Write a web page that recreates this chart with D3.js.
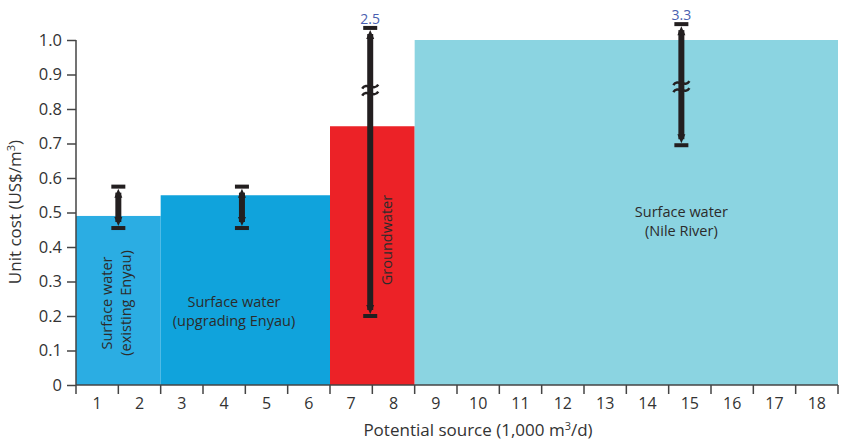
<!DOCTYPE html>
<html>
<head>
<meta charset="utf-8">
<script src="https://cdn.jsdelivr.net/npm/d3@7"></script>
<style>
body { margin: 0; background: #fff; }
text { font-family: "Open Sans", sans-serif; fill: #333; }
</style>
</head>
<body>
<svg width="841" height="442"></svg>
<script>
// sources: capacity span (1,000 m3/d) and unit cost
var sources = ["existing", "upgrading", "ground", "nile"];
var spanStart = [0, 2, 6, 8];
var spanEnd = [2, 6, 8, 18];
var unitCost = [0.49, 0.55, 0.75, 1.0];
var colors = ["#2badE3", "#10a3dc", "#ec2227", "#8bd4e1"];

// ranges (error bars)
var rangeX = [1, 3.92, 6.95, 14.3];
var rangeLow = [0.455, 0.455, 0.2, 0.695];
var rangeHigh = [0.575, 0.575, 1.035, 1.046];
var rangeTopLabel = ["", "", "2.5", "3.3"];
var hasBreak = [false, false, true, true];
var breakAt = [0, 0, 0.855, 0.865];

var yTicks = [0, 0.1, 0.2, 0.3, 0.4, 0.5, 0.6, 0.7, 0.8, 0.9, 1.0];
var xLabels = d3.range(1, 19);

var svg = d3.select("svg");

var x = d3.scaleLinear().domain([0, 18]).range([76, 838]);
var y = d3.scaleLinear().domain([0, 1]).range([385, 40]);

// bars
svg.selectAll(".bar")
    .data(sources)
    .enter().append("rect")
    .attr("class", "bar")
    .attr("x", function(d, i) { return x(spanStart[i]); })
    .attr("width", function(d, i) { return x(spanEnd[i]) - x(spanStart[i]); })
    .attr("y", function(d, i) { return y(unitCost[i]); })
    .attr("height", function(d, i) { return y(0) - y(unitCost[i]); })
    .attr("fill", function(d, i) { return colors[i]; });

// y axis
var yAxis = d3.axisLeft(y)
    .tickValues(yTicks)
    .tickSize(9)
    .tickPadding(5)
    .tickFormat(function(d) { return d === 0 ? "0" : d3.format(".1f")(d); });
var gy = svg.append("g").attr("transform", "translate(76,0)").call(yAxis);
gy.select(".domain").attr("stroke", "#444").attr("stroke-width", 1.5).attr("d", "M0,385V40");
gy.selectAll(".tick line").attr("stroke", "#444").attr("stroke-width", 1.5);
gy.selectAll(".tick text").style("font-size", "16.5px").style("fill", "#333");

// x axis: ticks at boundaries, labels in between
var gx = svg.append("g").attr("transform", "translate(0,385)");
gx.append("line")
    .attr("x1", x(0)).attr("x2", x(18))
    .attr("stroke", "#444").attr("stroke-width", 1.5);
gx.selectAll(".xtick")
    .data(d3.range(0, 19))
    .enter().append("line")
    .attr("x1", function(d) { return x(d); })
    .attr("x2", function(d) { return x(d); })
    .attr("y1", 0).attr("y2", 9)
    .attr("stroke", "#444").attr("stroke-width", 1.5);
gx.selectAll(".xlab")
    .data(xLabels)
    .enter().append("text")
    .attr("x", function(d) { return x(d - 0.5); })
    .attr("y", 24)
    .attr("text-anchor", "middle")
    .style("font-size", "16px")
    .text(function(d) { return d; });

// axis titles
svg.append("text")
    .attr("transform", "translate(21,212) rotate(-90)")
    .attr("text-anchor", "middle")
    .style("font-size", "17px")
    .html('Unit cost (US$/m<tspan dy="-6" font-size="11px">3</tspan><tspan dy="6">)</tspan>');

svg.append("text")
    .attr("x", 478).attr("y", 436)
    .attr("text-anchor", "middle")
    .style("font-size", "17px")
    .html('Potential source (1,000 m<tspan dy="-6" font-size="11px">3</tspan><tspan dy="6">/d)</tspan>');

// range bars
var bars = svg.selectAll(".range")
    .data(sources)
    .enter().append("g")
    .attr("class", "range");

bars.append("line")
    .attr("x1", function(d, i) { return x(rangeX[i]); })
    .attr("x2", function(d, i) { return x(rangeX[i]); })
    .attr("y1", function(d, i) { return y(rangeHigh[i]) + 6; })
    .attr("y2", function(d, i) { return y(rangeLow[i]) - 6; })
    .attr("stroke", "#231f20")
    .attr("stroke-width", 6);

// caps
bars.append("rect")
    .attr("x", function(d, i) { return x(rangeX[i]) - 7; })
    .attr("y", function(d, i) { return y(rangeHigh[i]) - 2; })
    .attr("width", 14).attr("height", 4)
    .attr("fill", "#231f20");
bars.append("rect")
    .attr("x", function(d, i) { return x(rangeX[i]) - 7; })
    .attr("y", function(d, i) { return y(rangeLow[i]) - 2; })
    .attr("width", 14).attr("height", 4)
    .attr("fill", "#231f20");

// arrowheads
bars.append("path")
    .attr("d", function(d, i) {
        var cx = x(rangeX[i]), t = y(rangeHigh[i]) + 2;
        return "M" + cx + "," + t + "L" + (cx - 4) + "," + (t + 9) + "L" + (cx + 4) + "," + (t + 9) + "Z";
    })
    .attr("fill", "#231f20");
bars.append("path")
    .attr("d", function(d, i) {
        var cx = x(rangeX[i]), b = y(rangeLow[i]) - 2;
        return "M" + cx + "," + b + "L" + (cx - 4) + "," + (b - 9) + "L" + (cx + 4) + "," + (b - 9) + "Z";
    })
    .attr("fill", "#231f20");

// break marks
bars.filter(function(d, i) { return hasBreak[i]; })
    .append("path")
    .attr("d", function(d) {
        var i = sources.indexOf(d);
        var cx = x(rangeX[i]), cy = y(breakAt[i]);
        var p = "";
        [-3.5, 3.5].forEach(function(o) {
            var yy = cy + o;
            p += "M" + (cx - 8) + "," + (yy + 2) + "C" + (cx - 4) + "," + (yy - 5) + " " + (cx + 4) + "," + (yy + 5) + " " + (cx + 8) + "," + (yy - 2);
        });
        return p;
    })
    .attr("fill", "none")
    .attr("stroke", "#231f20")
    .attr("stroke-width", 2.5);

// labels for off-scale highs
bars.append("text")
    .attr("x", function(d, i) { return x(rangeX[i]); })
    .attr("y", function(d, i) { return y(rangeHigh[i]) - 4; })
    .attr("text-anchor", "middle")
    .style("font-size", "14px")
    .style("fill", "#4a5fb0")
    .text(function(d, i) { return rangeTopLabel[i]; });

// labels inside bars
function label(lines, cx, cy, rot) {
    var t = svg.append("text")
        .attr("transform", "translate(" + cx + "," + cy + ")" + (rot ? " rotate(-90)" : ""))
        .attr("text-anchor", "middle")
        .style("font-size", "14.5px")
        .style("fill", "#2b2b2b");
    lines.forEach(function(l, k) {
        t.append("tspan").attr("x", 0).attr("dy", k === 0 ? 0 : 19).text(l);
    });
}
label(["Surface water", "(existing Enyau)"], 112, 303, true);
label(["Surface water", "(upgrading Enyau)"], 234, 307, false);
label(["Groundwater"], 392, 240, true);
label(["Surface water", "(Nile River)"], x(14.3), 217, false);
</script>
</body>
</html>
